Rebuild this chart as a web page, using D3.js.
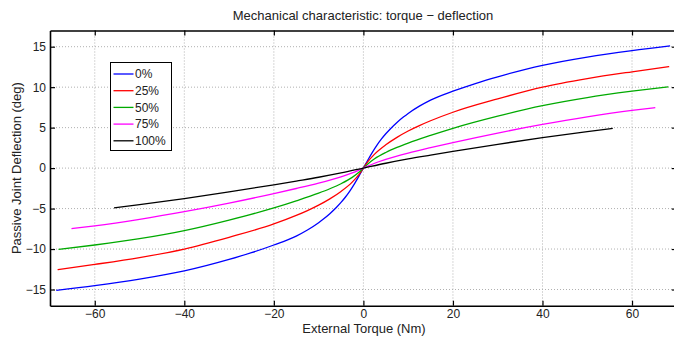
<!DOCTYPE html>
<html>
<head>
<meta charset="utf-8">
<script src="https://cdn.jsdelivr.net/npm/d3@7"></script>
<style>
  body { margin: 0; background: #fff; }
  svg { font-family: "Liberation Sans", Arial, sans-serif; }
  .grid line { stroke: #b0b0b0; stroke-width: 1; stroke-dasharray: 1,2; }
  .axis path, .axis line { stroke: #000; }
  .axis path { stroke-width: 1.6; }
  .axis text { font-size: 12px; fill: #222; }
</style>
</head>
<body>
<svg width="674" height="338"></svg>
<script>
// Datos (torque en Nm, deflexión en grados)
const torque0   = [-68.6, -60, -50, -40, -30, -25, -20, -15, -12.5, -10, -9, -7.5, -6, -5, -4, -3, -2, -1, 0, 1, 2, 3, 4, 5, 6, 7.5, 9, 10, 12.5, 15, 20, 25, 30, 40, 50, 60, 68.5];
const defl0     = [-15.1, -14.52, -13.72, -12.7, -11.28, -10.45, -9.5, -8.4, -7.65, -6.75, -6.33, -5.64, -4.84, -4.24, -3.57, -2.81, -1.95, -1.0, 0, 1.0, 1.95, 2.81, 3.57, 4.24, 4.84, 5.64, 6.33, 6.75, 7.65, 8.4, 9.5, 10.45, 11.28, 12.7, 13.72, 14.52, 15.1];

const torque25  = [-68.3, -60, -50, -40, -30, -20, -15, -12.5, -10, -7.5, -5, -2.5, -1, 0, 1, 2.5, 5, 7.5, 10, 12.5, 15, 20, 30, 40, 50, 60, 68.3];
const defl25    = [-12.55, -11.9, -11.05, -10.0, -8.55, -6.9, -5.85, -5.25, -4.58, -3.8, -2.88, -1.73, -0.8, 0, 0.8, 1.73, 2.88, 3.8, 4.58, 5.25, 5.85, 6.9, 8.55, 10.0, 11.05, 11.9, 12.55];

const torque50  = [-68.1, -60, -50, -40, -30, -20, -15, -10, -7.5, -5, -2.5, -1, 0, 1, 2.5, 5, 7.5, 10, 15, 20, 30, 40, 50, 60, 68.1];
const defl50    = [-10.05, -9.5, -8.72, -7.72, -6.42, -4.92, -4.04, -3.09, -2.55, -1.93, -1.15, -0.52, 0, 0.52, 1.15, 1.93, 2.55, 3.09, 4.04, 4.92, 6.42, 7.72, 8.72, 9.5, 10.05];

const torque75  = [-65.2, -60, -50, -40, -30, -20, -15, -10, -5, -2.5, -1, 0, 1, 2.5, 5, 10, 15, 20, 30, 40, 50, 60, 65.2];
const defl75    = [-7.47, -7.13, -6.33, -5.39, -4.33, -3.15, -2.52, -1.85, -1.07, -0.6, -0.25, 0, 0.25, 0.6, 1.07, 1.85, 2.52, 3.15, 4.33, 5.39, 6.33, 7.13, 7.47];

const torque100 = [-55.7, -50, -40, -30, -20, -15, -10, -5, 0, 5, 10, 15, 20, 30, 40, 50, 55.7];
const defl100   = [-4.91, -4.51, -3.76, -2.94, -2.06, -1.6, -1.13, -0.6, 0, 0.6, 1.13, 1.6, 2.06, 2.94, 3.76, 4.51, 4.91];

const seriesNames  = ["0%", "25%", "50%", "75%", "100%"];
const seriesColors = ["#0000ff", "#ff0000", "#00aa00", "#ff00ff", "#000000"];
const torques = [torque0, torque25, torque50, torque75, torque100];
const defls   = [defl0, defl25, defl50, defl75, defl100];

const xTicks = [-60, -40, -20, 0, 20, 40, 60];
const yTicks = [-15, -10, -5, 0, 5, 10, 15];

const svg = d3.select("svg");

// Escalas
const x = d3.scaleLinear().domain([-70, 70]).range([50, 676.8]);
const y = d3.scaleLinear().domain([-17, 17]).range([305.7, 30.5]);

// Rejilla punteada
const grid = svg.append("g").attr("class", "grid");
grid.selectAll(".gx").data(xTicks).enter().append("line")
    .attr("x1", d => x(d)).attr("x2", d => x(d))
    .attr("y1", y(17)).attr("y2", y(-17));
grid.selectAll(".gy").data(yTicks).enter().append("line")
    .attr("y1", d => y(d)).attr("y2", d => y(d))
    .attr("x1", x(-70)).attr("x2", x(70));

// Curvas
const line = d3.line()
    .x(d => x(d[0]))
    .y(d => y(d[1]))
    .curve(d3.curveMonotoneX);

svg.append("g").selectAll("path")
    .data(seriesNames.map((n, i) => ({ name: n, color: seriesColors[i], pts: d3.zip(torques[i], defls[i]) })))
    .enter().append("path")
    .attr("fill", "none")
    .attr("stroke", d => d.color)
    .attr("stroke-width", 1.3)
    .attr("d", d => line(d.pts));

// Ejes (ticks hacia adentro, estilo MATLAB)
svg.append("g").attr("class", "axis")
    .attr("transform", `translate(0,${y(-17)})`)
    .call(d3.axisBottom(x).tickValues(xTicks).tickSizeInner(-5).tickSizeOuter(0).tickPadding(4));
svg.append("g").attr("class", "axis")
    .attr("transform", `translate(0,${y(17)})`)
    .call(d3.axisTop(x).tickValues(xTicks).tickSizeInner(-5).tickSizeOuter(0).tickFormat(""));
svg.append("g").attr("class", "axis")
    .attr("transform", `translate(${x(-70)},0)`)
    .call(d3.axisLeft(y).tickValues(yTicks).tickSizeInner(-5).tickSizeOuter(0).tickPadding(4));
svg.append("g").attr("class", "axis")
    .attr("transform", `translate(${x(70)},0)`)
    .call(d3.axisRight(y).tickValues(yTicks).tickSizeInner(-5).tickSizeOuter(0).tickFormat(""));

svg.selectAll(".axis .tick line").attr("stroke-width", 1.2);

// Títulos
svg.append("text")
    .attr("x", 363).attr("y", 20)
    .attr("text-anchor", "middle")
    .attr("font-size", "13px").attr("fill", "#222")
    .text("Mechanical characteristic: torque \u2212 deflection");

svg.append("text")
    .attr("x", 364).attr("y", 333)
    .attr("text-anchor", "middle")
    .attr("font-size", "13px").attr("fill", "#222")
    .text("External Torque (Nm)");

svg.append("text")
    .attr("transform", `translate(21,${y(0)}) rotate(-90)`)
    .attr("text-anchor", "middle")
    .attr("font-size", "13px").attr("fill", "#222")
    .text("Passive Joint Deflection (deg)");

// Leyenda
const legend = svg.append("g").attr("transform", "translate(110.5,62.5)");
legend.append("rect")
    .attr("width", 61).attr("height", 88)
    .attr("fill", "#fff").attr("stroke", "#000").attr("stroke-width", 1);
const item = legend.selectAll(".item")
    .data(seriesNames)
    .enter().append("g")
    .attr("transform", (d, i) => `translate(0,${11.5 + i * 16.7})`);
item.append("line")
    .attr("x1", 3).attr("x2", 23)
    .attr("stroke", (d, i) => seriesColors[i])
    .attr("stroke-width", 1.3);
item.append("text")
    .attr("x", 24.5).attr("dy", "0.35em")
    .attr("font-size", "12px").attr("fill", "#222")
    .text(d => d);
</script>
</body>
</html>
